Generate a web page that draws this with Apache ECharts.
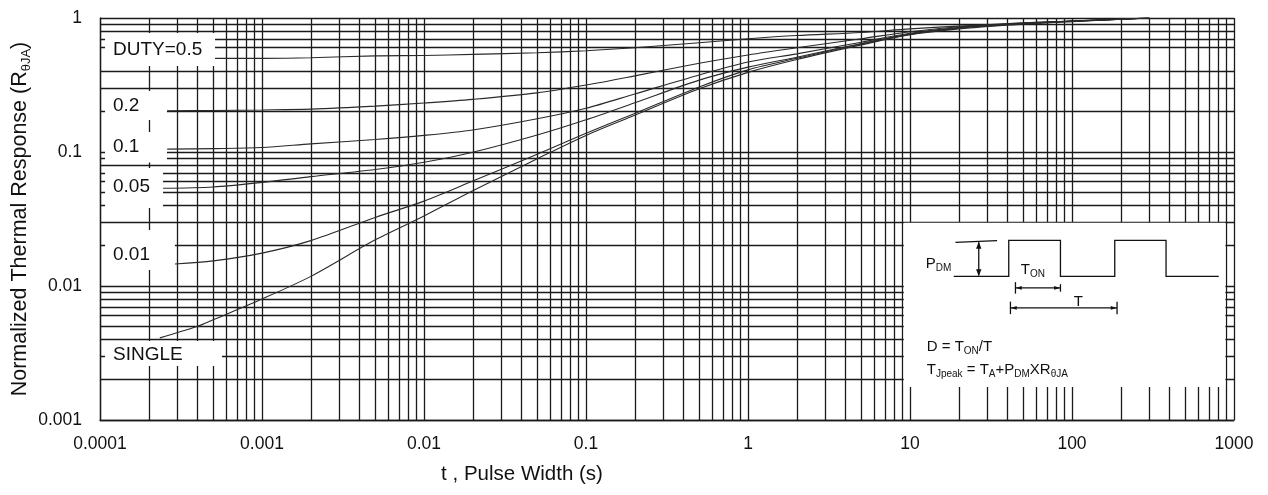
<!DOCTYPE html>
<html><head><meta charset="utf-8">
<script src="https://cdn.jsdelivr.net/npm/echarts@6/dist/echarts.min.js"></script>
<style>html,body{margin:0;padding:0;background:#fff}#c{width:1268px;height:495px}</style>
</head><body><div id="c"></div>
<script>
// ---------- data ----------
const xDecades = [1e-4, 1e-3, 1e-2, 1e-1, 1, 10, 100];
const yDecades = [1e-3, 1e-2, 1e-1];
const gridMultipliers = [1, 2, 3, 4, 5, 6, 7, 8, 9];
const xTickLabels = ['0.0001', '0.001', '0.01', '0.1', '1', '10', '100', '1000'];
const yTickLabels = ['0.001', '0.01', '0.1', '1'];
const curveLabels = ['DUTY=0.5', '0.2', '0.1', '0.05', '0.01', 'SINGLE'];

const tCommon = [5e-4, 1e-3, 2e-3, 5e-3, 0.01, 0.02, 0.05, 0.1, 0.2, 0.5, 1, 2, 5, 10, 20, 50, 100, 300];

const tDuty05 = tCommon;
const rDuty05 = [0.5, 0.5, 0.505, 0.522, 0.525, 0.535, 0.55, 0.57, 0.6, 0.654, 0.70, 0.74, 0.78, 0.83, 0.87, 0.91, 0.95, 1.0];

const tDuty02 = [2.6e-4].concat(tCommon);
const rDuty02 = [0.203, 0.204, 0.206, 0.209, 0.220, 0.232, 0.247, 0.276, 0.316, 0.37, 0.459, 0.53, 0.6, 0.7, 0.79, 0.86, 0.92, 0.95, 1.0];

const tDuty01 = [2.6e-4].concat(tCommon);
const rDuty01 = [0.105, 0.106, 0.108, 0.115, 0.124, 0.133, 0.146, 0.177, 0.212, 0.271, 0.376, 0.47, 0.54, 0.66, 0.77, 0.85, 0.915, 0.948, 1.0];

const tDuty005 = [2.45e-4].concat(tCommon);
const rDuty005 = [0.0536, 0.0548, 0.0593, 0.0655, 0.074, 0.0838, 0.0996, 0.134, 0.174, 0.233, 0.344, 0.43, 0.51, 0.645, 0.76, 0.845, 0.91, 0.945, 1.0];

const tDuty001 = [2.9e-4].concat(tCommon);
const rDuty001 = [0.0146, 0.0154, 0.0176, 0.0218, 0.0325, 0.043, 0.0607, 0.0964, 0.138, 0.194, 0.306, 0.41, 0.5, 0.64, 0.755, 0.84, 0.91, 0.945, 1.0];

const tSingle = [2.34e-4, 4e-4].concat(tCommon);
const rSingle = [0.0041, 0.005, 0.0056, 0.008, 0.0118, 0.0221, 0.0333, 0.0514, 0.089, 0.133, 0.188, 0.296, 0.393, 0.49, 0.63, 0.75, 0.83, 0.90, 0.94, 1.0];

// ---------- build ----------
const FONT = "'Liberation Sans', Arial, sans-serif";
const INK = '#111';
const pairs = (t, r) => t.map((v, i) => [v, r[i]]);

const xGrid = [];
xDecades.forEach(d => gridMultipliers.forEach(m => xGrid.push(+(d * m).toPrecision(6))));
xGrid.push(1000);
const yGrid = [];
yDecades.forEach(d => gridMultipliers.forEach(m => {
  const v = +(d * m).toPrecision(6);
  if (v !== 0.5) yGrid.push(v);
}));
yGrid.push(1);

// annotation boxes (data-space corners)
const boxes = [
  { t: [1.074e-4, 5.13e-4], r: [0.773, 0.438], dy: 0 },
  { t: [1.074e-4, 2.59e-4], r: [0.285, 0.173], dy: 0 },
  { t: [1.074e-4, 2.59e-4], r: [0.141, 0.0835], dy: 0 },
  { t: [1.074e-4, 2.45e-4], r: [0.0761, 0.0382], dy: -1 },
  { t: [1.074e-4, 2.9e-4], r: [0.0262, 0.01316], dy: 5 },
  { t: [1.074e-4, 5.66e-4], r: [0.00389, 0.00253], dy: 1 }
];
const inset = { t: [9.15, 885], r: [0.0297, 0.00176] };

const markAreaData = boxes.map((b, i) => [
  { name: curveLabels[i], coord: [b.t[0], b.r[0]], label: { offset: [0, b.dy] } },
  { coord: [b.t[1], b.r[1]] }
]);
markAreaData.push([{ name: '', coord: [inset.t[0], inset.r[0]] }, { coord: [inset.t[1], inset.r[1]] }]);

const curveSets = [
  [tDuty05, rDuty05], [tDuty02, rDuty02], [tDuty01, rDuty01],
  [tDuty005, rDuty005], [tDuty001, rDuty001], [tSingle, rSingle]
];

const series = [
  {
    type: 'line', data: [], silent: true, z: 1,
    markLine: {
      z: 1, silent: true, symbol: ['none', 'none'], animation: false, precision: 10,
      label: { show: false },
      lineStyle: { type: 'solid', color: '#1a1a1a', width: 1.3, opacity: 1 },
      emphasis: { disabled: true },
      data: xGrid.map(v => ({ xAxis: v })).concat(yGrid.map(v => ({ yAxis: v })))
    }
  },
  {
    type: 'line', data: [], silent: true, z: 3,
    markArea: {
      z: 3, silent: true, animation: false,
      itemStyle: { color: '#fff', opacity: 1, borderWidth: 0 },
      emphasis: { disabled: true },
      label: { show: true, position: 'insideLeft', distance: 8, color: INK, fontSize: 19, fontFamily: FONT },
      data: markAreaData
    }
  }
];
curveSets.forEach((c, i) => series.push({
  type: 'line', name: curveLabels[i], data: pairs(c[0], c[1]), z: 2,
  showSymbol: false, smooth: 0.3, silent: true,
  lineStyle: { color: '#2a2a2a', width: 1.1 }
}));

const chart = echarts.init(document.getElementById('c'), null, { renderer: 'canvas' });
chart.setOption({
  animation: false,
  backgroundColor: '#fff',
  grid: { left: 100, right: 34, top: 18, bottom: 75, containLabel: false, outerBoundsMode: 'none' },
  xAxis: {
    type: 'log', logBase: 10, min: 1e-4, max: 1000, splitNumber: 7,
    axisLine: { show: true, lineStyle: { color: '#1a1a1a', width: 1.3 } },
    axisTick: { show: false }, splitLine: { show: false }, minorTick: { show: false },
    axisLabel: {
      color: INK, fontSize: 17.5, fontFamily: FONT, margin: 15,
      formatter: v => xTickLabels[Math.round(Math.log10(v)) + 4]
    },
    name: 't , Pulse Width (s)', nameLocation: 'middle', nameGap: 44, nameMoveOverlap: false,
    nameTextStyle: { color: INK, fontSize: 20.5, fontFamily: FONT, padding: [0, 290, 0, 0] }
  },
  yAxis: {
    type: 'log', logBase: 10, min: 0.001, max: 1, splitNumber: 3,
    axisLine: { show: true, lineStyle: { color: '#1a1a1a', width: 1.3 } },
    axisTick: { show: false }, splitLine: { show: false }, minorTick: { show: false },
    axisLabel: {
      color: INK, fontSize: 17.5, fontFamily: FONT, margin: 18,
      formatter: v => yTickLabels[Math.round(Math.log10(v)) + 3]
    },
    name: '{a|Normalized Thermal Response (R}{s|θJA}{a|)}', nameLocation: 'middle', nameGap: 67, nameMoveOverlap: false,
    nameTextStyle: {
      color: INK, fontFamily: FONT,
      rich: {
        a: { fontSize: 21.5, fontFamily: FONT, color: INK, lineHeight: 26, verticalAlign: 'middle' },
        s: { fontSize: 13, fontFamily: FONT, color: INK, lineHeight: 26, verticalAlign: 'bottom' }
      }
    }
  },
  series: series
});

// ---------- inset diagram ----------
const o = chart.convertToPixel({ gridIndex: 0 }, [inset.t[0], inset.r[0]]);
const ox = o[0], oy = o[1];
const P = p => [ox + p[0], oy + p[1]];
const lineEl = pts => ({ type: 'polyline', silent: true, z: 100, shape: { points: pts.map(P) }, style: { stroke: INK, lineWidth: 1.3, fill: null } });
const triEl = pts => ({ type: 'polygon', silent: true, z: 100, shape: { points: pts.map(P) }, style: { fill: INK, stroke: null } });
const richBase = {
  n: { fontSize: 15, fontFamily: FONT, fill: INK, lineHeight: 19, verticalAlign: 'middle' },
  s: { fontSize: 10, fontFamily: FONT, fill: INK, lineHeight: 19, verticalAlign: 'bottom' }
};
const textEl = (x, y, text) => ({
  type: 'text', silent: true, z: 100, x: ox + x, y: oy + y,
  style: { text: text, rich: richBase, verticalAlign: 'middle', align: 'left', fill: INK, font: '15px ' + FONT }
});

const graphics = [
  lineEl([[50, 53.7], [105, 53.7], [105, 17.7], [156.7, 17.7], [156.7, 53.7], [211, 53.7], [211, 17.7], [262.3, 17.7], [262.3, 53.7], [315, 53.7]]),
  lineEl([[51.7, 19.7], [93.3, 18]]),
  lineEl([[75, 19.5], [75, 52.5]]),
  triEl([[75, 19], [72.3, 26], [77.7, 26]]),
  triEl([[75, 53.5], [72.3, 46.5], [77.7, 46.5]]),
  lineEl([[111.7, 65.3], [156.7, 65.3]]),
  lineEl([[111.7, 59.5], [111.7, 71]]),
  lineEl([[156.7, 61.5], [156.7, 69]]),
  triEl([[112, 65.3], [118, 63.4], [118, 67.2]]),
  triEl([[156.4, 65.3], [150.4, 63.4], [150.4, 67.2]]),
  lineEl([[106.7, 85.3], [213.3, 85.3]]),
  lineEl([[106.7, 79], [106.7, 91.5]]),
  lineEl([[213.3, 79], [213.3, 91.5]]),
  triEl([[107, 85.3], [113, 83.4], [113, 87.2]]),
  triEl([[213, 85.3], [207, 83.4], [207, 87.2]]),
  textEl(22, 41, '{n|P}{s|DM}'),
  textEl(117, 47, '{n|T}{s|ON}'),
  textEl(170, 79, '{n|T}'),
  textEl(23, 124, '{n|D = T}{s|ON}{n|/T}'),
  textEl(23, 147, '{n|T}{s|Jpeak}{n| = T}{s|A}{n|+P}{s|DM}{n|XR}{s|θJA}')
];
chart.setOption({ graphic: graphics });
</script>
</body></html>
